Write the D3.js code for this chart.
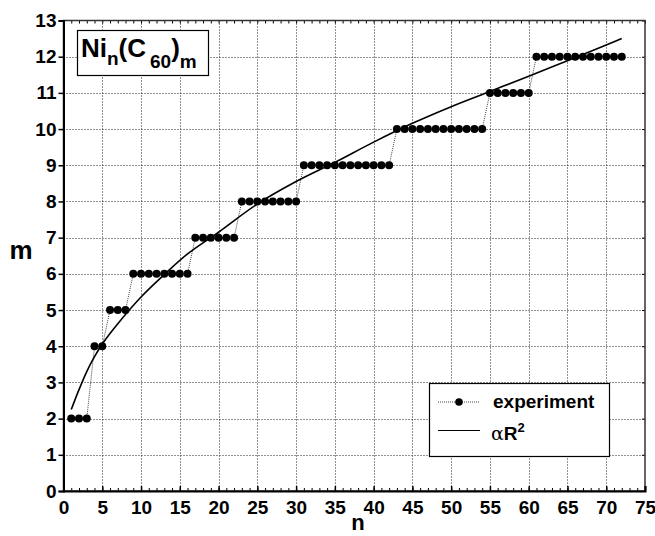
<!DOCTYPE html>
<html>
<head>
<meta charset="utf-8">
<script src="https://cdn.jsdelivr.net/npm/d3@7"></script>
<style>
  body { margin: 0; background: #fff; }
  text { font-family: "Liberation Sans", Arial, Helvetica, sans-serif; font-weight: bold; }
</style>
</head>
<body>
<script>
// measured m for n = 1..72
const expM = [
    2, 2, 2, 4, 4, 5, 5, 5, 6, 6,
    6, 6, 6, 6, 6, 6, 7, 7, 7, 7,
    7, 7, 8, 8, 8, 8, 8, 8, 8, 8,
    9, 9, 9, 9, 9, 9, 9, 9, 9, 9,
    9, 9, 10, 10, 10, 10, 10, 10, 10, 10,
    10, 10, 10, 10, 11, 11, 11, 11, 11, 11,
    12, 12, 12, 12, 12, 12, 12, 12, 12, 12,
    12, 12
];

// alpha R^2 curve
const fitN = [1, 2, 3, 4, 5, 7, 10, 13, 16, 20, 25, 30, 35, 40, 45, 50, 55, 60, 65, 70, 72];
const fitM = [2.25, 2.8, 3.3, 3.71, 4.06, 4.62, 5.36, 5.98, 6.55, 7.15, 7.93, 8.55, 9.08, 9.64, 10.16, 10.62, 11.04, 11.46, 11.89, 12.32, 12.5];

const xTicks = [0, 5, 10, 15, 20, 25, 30, 35, 40, 45, 50, 55, 60, 65, 70, 75];
const yTicks = [0, 1, 2, 3, 4, 5, 6, 7, 8, 9, 10, 11, 12, 13];

const width = 655, height = 536;
const plotL = 63.5, plotR = 645, plotT = 20.5, plotB = 491;

var svg = d3.select("body")
    .append("svg")
    .attr("width", width)
    .attr("height", height);

var x = d3.scaleLinear().domain([0, 75]).range([plotL, plotR]);
var y = d3.scaleLinear().domain([0, 13]).range([plotB, plotT]);

// grid
let grid = svg.append("g")
    .attr("stroke", "#222")
    .attr("stroke-width", 1)
    .attr("stroke-dasharray", "1,2");

grid.selectAll(".vg")
    .data(xTicks.slice(1, -1))
    .enter().append("line")
    .attr("x1", d => Math.round(x(d)) + 0.5).attr("x2", d => Math.round(x(d)) + 0.5)
    .attr("y1", plotT).attr("y2", plotB);

grid.selectAll(".hg")
    .data(yTicks.slice(1, -1))
    .enter().append("line")
    .attr("y1", d => Math.round(y(d)) + 0.5).attr("y2", d => Math.round(y(d)) + 0.5)
    .attr("x1", plotL).attr("x2", plotR);

// minor ticks along top and bottom (every unit)
let minor = d3.range(0, 76);
svg.append("g")
    .attr("transform", `translate(0,${plotB})`)
    .call(d3.axisBottom(x).tickValues(minor).tickSize(-3).tickFormat(""))
    .call(g => g.select(".domain").remove());

svg.append("g")
    .attr("transform", `translate(0,${plotT})`)
    .call(d3.axisTop(x).tickValues(minor).tickSize(-3).tickFormat(""))
    .call(g => g.select(".domain").remove());

svg.append("g")
    .attr("transform", `translate(${plotR},0)`)
    .call(d3.axisRight(y).tickValues(yTicks).tickSize(-3).tickFormat(""))
    .call(g => g.select(".domain").remove());

// frame
svg.append("rect")
    .attr("x", plotL).attr("y", plotT)
    .attr("width", plotR - plotL).attr("height", plotB - plotT)
    .attr("fill", "none")
    .attr("stroke", "#333")
    .attr("stroke-width", 1.5);

// axes
let xAxis = svg.append("g")
    .attr("transform", `translate(0,${plotB})`)
    .call(d3.axisBottom(x).tickValues(xTicks).tickSize(-5).tickPadding(10));
xAxis.select(".domain").attr("stroke-width", 2);
xAxis.selectAll("line").attr("stroke-width", 1.5);
xAxis.selectAll("text").attr("font-size", 19).attr("font-family", null).attr("fill", "#000");

let yAxis = svg.append("g")
    .attr("transform", `translate(${plotL},0)`)
    .call(d3.axisLeft(y).tickValues(yTicks).tickSize(5).tickPadding(2));
yAxis.select(".domain").attr("stroke-width", 2);
yAxis.selectAll("line").attr("stroke-width", 1.5);
yAxis.selectAll("text").attr("font-size", 19).attr("font-family", null).attr("fill", "#000");

// axis titles
svg.append("text")
    .attr("x", 21).attr("y", 259)
    .attr("text-anchor", "middle")
    .attr("font-size", 26)
    .text("m");

svg.append("text")
    .attr("x", 358).attr("y", 530)
    .attr("text-anchor", "middle")
    .attr("font-size", 22)
    .text("n");

// experiment
let expPts = expM.map((m, i) => [i + 1, m]);

var line = d3.line().x(d => x(d[0])).y(d => y(d[1]));

svg.append("path")
    .datum(expPts)
    .attr("d", line)
    .attr("fill", "none")
    .attr("stroke", "#444")
    .attr("stroke-width", 1)
    .attr("stroke-dasharray", "1,1");

svg.append("g")
    .selectAll("circle")
    .data(expPts)
    .enter().append("circle")
    .attr("cx", d => x(d[0]))
    .attr("cy", d => y(d[1]))
    .attr("r", 4)
    .attr("fill", "#000");

// alpha R^2 fit
var curve = d3.line()
    .x((d, i) => x(fitN[i]))
    .y(d => y(d))
    .curve(d3.curveCatmullRom.alpha(0.5));

svg.append("path")
    .datum(fitM)
    .attr("d", curve)
    .attr("fill", "none")
    .attr("stroke", "#000")
    .attr("stroke-width", 1.6);

// title box
svg.append("rect")
    .attr("x", 77.5).attr("y", 30.5)
    .attr("width", 131).attr("height", 45)
    .attr("fill", "#fff")
    .attr("stroke", "#000")
    .attr("stroke-width", 1.2);

let title = svg.append("text")
    .attr("x", 81).attr("y", 57)
    .attr("font-size", 26);
title.append("tspan").text("Ni");
title.append("tspan").attr("font-size", 19).attr("dy", 8).text("n");
title.append("tspan").attr("dy", -8).text("(C");
title.append("tspan").attr("font-size", 19).attr("dy", 11).attr("dx", 4).text("60");
title.append("tspan").attr("dy", -11).text(")");
title.append("tspan").attr("font-size", 19).attr("dy", 11).text("m");

// legend
let legend = svg.append("g");
legend.append("rect")
    .attr("x", 429.5).attr("y", 383.5)
    .attr("width", 180).attr("height", 73)
    .attr("fill", "#fff")
    .attr("stroke", "#000")
    .attr("stroke-width", 1.2);

legend.append("line")
    .attr("x1", 438).attr("x2", 480).attr("y1", 402).attr("y2", 402)
    .attr("stroke", "#444").attr("stroke-width", 1).attr("stroke-dasharray", "1,1");
legend.append("circle")
    .attr("cx", 459).attr("cy", 402).attr("r", 3.8).attr("fill", "#000");
legend.append("text")
    .attr("x", 493).attr("y", 408)
    .attr("font-size", 19)
    .text("experiment");

legend.append("line")
    .attr("x1", 438).attr("x2", 480).attr("y1", 430.5).attr("y2", 430.5)
    .attr("stroke", "#000").attr("stroke-width", 1.2);
let lab2 = legend.append("text")
    .attr("x", 491).attr("y", 440)
    .attr("font-size", 19);
lab2.append("tspan").attr("font-weight", "normal").attr("font-family", "'DejaVu Serif', serif").text("α");
lab2.append("tspan").text("R");
lab2.append("tspan").attr("font-size", 13).attr("dy", -8).text("2");
</script>
</body>
</html>
